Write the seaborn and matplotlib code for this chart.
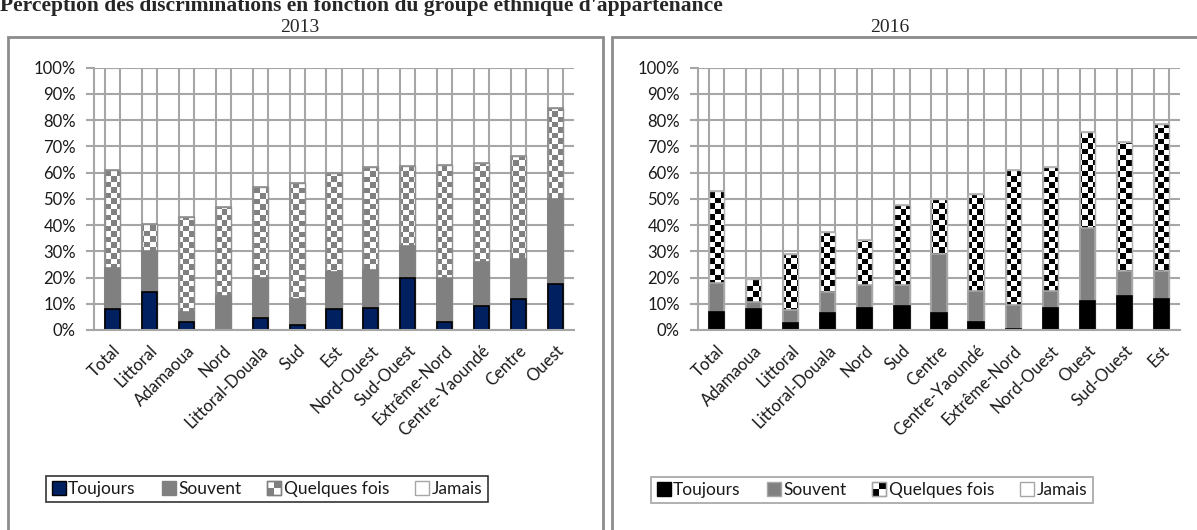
import numpy as np
import pandas as pd
import matplotlib
matplotlib.use("Agg")
import matplotlib.pyplot as plt
from matplotlib.patches import Rectangle, Patch
from matplotlib.legend_handler import HandlerBase
import seaborn as sns

# ---------------------------------------------------------------------
# Données (en %)
# ---------------------------------------------------------------------
regions_2013 = ["Total", "Littoral", "Adamaoua", "Nord", "Littoral-Douala", "Sud", "Est",
                "Nord-Ouest", "Sud-Ouest", "Extrême-Nord", "Centre-Yaoundé", "Centre", "Ouest"]
toujours_2013 = [8, 14.5, 3, 0, 4.5, 2, 8, 8.5, 20, 3, 9, 12, 17.5]
souvent_2013 = [15.5, 15.5, 4, 13, 15.5, 10, 14, 14.5, 12, 17, 17, 15, 32.5]
quelques_2013 = [37.5, 10.5, 36, 34, 34.5, 44, 38, 39, 30.5, 43, 37.5, 39.5, 34.5]

regions_2016 = ["Total", "Adamaoua", "Littoral", "Littoral-Douala", "Nord", "Sud", "Centre",
                "Centre-Yaoundé", "Extrême-Nord", "Nord-Ouest", "Ouest", "Sud-Ouest", "Est"]
toujours_2016 = [7, 8, 2.5, 6.5, 8.5, 9, 6.5, 3, 0.5, 8.5, 11, 13, 12]
souvent_2016 = [11, 2.5, 5, 8, 8.5, 8, 22.5, 12, 9, 6.5, 28, 9.5, 10.5]
quelques_2016 = [35, 9, 21.5, 23, 17.5, 30.5, 21, 37, 51.5, 47, 36.5, 49, 56]

categories = ["Toujours", "Souvent", "Quelques fois", "Jamais"]
yticks = np.arange(0, 101, 10)

GRID = "#a6a6a6"
TEXT = "#1a1a1a"
W, H = 1197, 530

sns.set_theme(style="white")
plt.rcParams["font.family"] = ["Lato", "DejaVu Sans"]


def checker(n_rows, n_cols):
    """Damier 0/1 pour les segments 'Quelques fois'."""
    return (np.add.outer(np.arange(n_rows), np.arange(n_cols)) % 2).astype(float)


class CheckerHandler(HandlerBase):
    """Petit carré à damier pour la légende."""
    def __init__(self, dark, edge):
        super().__init__()
        self.dark, self.edge = dark, edge

    def create_artists(self, legend, orig_handle, xdescent, ydescent, width, height, fontsize, trans):
        s = min(width, height)
        x0, y0 = -xdescent, -ydescent
        h = s / 2
        arts = [Rectangle((x0, y0), s, s, facecolor="white", edgecolor=self.edge, lw=1, transform=trans)]
        for (i, j) in [(0, 0), (1, 1)]:
            arts.append(Rectangle((x0 + i * h, y0 + j * h), h, h, facecolor=self.dark,
                                  edgecolor="none", transform=trans))
        arts.append(Rectangle((x0, y0), s, s, facecolor="none", edgecolor=self.edge, lw=1, transform=trans))
        return arts


def stacked_panel(ax, regions, toujours, souvent, quelques, c_tj, e_tj, c_sv, e_sv, c_chk, e_chk):
    df = pd.DataFrame({"region": regions, "t": toujours, "s": souvent, "q": quelques})
    df["c1"] = df["t"]
    df["c2"] = df["c1"] + df["s"]
    df["c3"] = df["c2"] + df["q"]
    df["c4"] = 100.0

    bw = 0.41
    # Jamais : contour gris sans remplissage (hauteur totale)
    sns.barplot(data=df, x="region", y="c4", color=GRID, fill=False, width=bw,
                linewidth=1.5, errorbar=None, ax=ax, zorder=2)
    n0 = len(ax.patches)
    sns.barplot(data=df, x="region", y="c3", color="white", width=bw, saturation=1,
                edgecolor=e_chk, linewidth=1.2, errorbar=None, ax=ax, zorder=3)
    chk_patches = ax.patches[n0:]
    sns.barplot(data=df, x="region", y="c2", color=c_sv, width=bw, saturation=1,
                edgecolor=e_sv, linewidth=1.2, errorbar=None, ax=ax, zorder=5)
    sns.barplot(data=df, x="region", y="c1", color=c_tj, width=bw, saturation=1,
                edgecolor=e_tj, linewidth=1.2, errorbar=None, ax=ax, zorder=6)

    # texture damier pour 'Quelques fois'
    pos = ax.get_position()
    ncols = int(round(pos.width * W / 5.5))
    nrows = int(round(pos.height * H / 5.5))
    cmap = matplotlib.colors.ListedColormap(["white", c_chk])
    img = checker(nrows, ncols)
    for p in chk_patches:
        if p.get_height() <= 0:
            continue
        im = ax.imshow(img, cmap=cmap, extent=(0, 1, 0, 1), transform=ax.transAxes,
                       interpolation="nearest", aspect="auto", zorder=4)
        im.set_clip_path(p)
        # contour du segment au-dessus de la texture
        ax.add_patch(Rectangle(p.get_xy(), p.get_width(), p.get_height(), facecolor="none",
                               edgecolor=e_chk, lw=1.0, zorder=4.5))

    n = len(regions)
    ax.set_xlim(-0.5, n - 0.5)
    ax.set_ylim(0, 100)
    ax.set_yticks(yticks)
    ax.set_yticklabels([f"{v}%" for v in yticks], fontsize=12, color=TEXT)
    ax.set_xticks(range(n))
    ax.set_xticklabels(regions, rotation=45, ha="right", rotation_mode="anchor",
                       fontsize=12, color=TEXT)
    ax.set_xticks(np.arange(-0.5, n, 1), minor=True)
    ax.tick_params(axis="x", which="major", length=0, pad=9)
    ax.tick_params(axis="x", which="minor", length=6, width=1.5, color=GRID, direction="out")
    ax.tick_params(axis="y", length=6, width=1.5, color=GRID, direction="out", pad=7, left=True)
    ax.yaxis.grid(True, color=GRID, linewidth=1.5)
    ax.set_axisbelow(True)
    for side in ["top", "right"]:
        ax.spines[side].set_visible(False)
    for side in ["left", "bottom"]:
        ax.spines[side].set_color(GRID)
        ax.spines[side].set_linewidth(1.5)
        ax.spines[side].set_zorder(7)
    ax.set_xlabel("")
    ax.set_ylabel("")


fig = plt.figure(figsize=(W / 100, H / 100), dpi=100)
ax1 = fig.add_axes([94 / W, 1 - 330 / H, 480 / W, 262.3 / H])
ax2 = fig.add_axes([698 / W, 1 - 330 / H, 482 / W, 262.3 / H])

stacked_panel(ax1, regions_2013, toujours_2013, souvent_2013, quelques_2013,
              "#002060", "black", "#808080", "#808080", "#808080", "#909090")
stacked_panel(ax2, regions_2016, toujours_2016, souvent_2016, quelques_2016,
              "black", "black", "#808080", "#a6a6a6", "black", "#b0b0b0")

# cadres des deux panneaux
for x0, x1 in [(8, 603), (612, 1205)]:
    fig.add_artist(Rectangle((x0 / W, -0.05), (x1 - x0) / W, (H - 37) / H + 0.05,
                             transform=fig.transFigure, fill=False, edgecolor="#8c8c8c", lw=2))

# titres
fig.text(0, 1 - 11 / H, "Perception des discriminations en fonction du groupe ethnique d'appartenance",
         family=["Liberation Serif"], fontweight="bold", fontsize=15.5, va="baseline", ha="left")
fig.text(300 / W, 1 - 32 / H, "2013", family=["Liberation Serif"], fontsize=14, va="baseline", ha="center")
fig.text(890 / W, 1 - 32 / H, "2016", family=["Liberation Serif"], fontsize=14, va="baseline", ha="center")

# légendes
def make_legend(c_tj, e_tj, c_sv, e_sv, c_chk, e_chk, frame_col, cx, cy):
    handles = [Patch(facecolor=c_tj, edgecolor=e_tj, lw=1),
               Patch(facecolor=c_sv, edgecolor=e_sv, lw=1),
               Patch(facecolor="white", edgecolor=e_chk),
               Patch(facecolor="white", edgecolor=GRID, lw=1)]
    leg = fig.legend(handles, categories, loc="center", bbox_to_anchor=(cx, cy), ncol=4,
                     frameon=True, fancybox=False, edgecolor=frame_col, fontsize=12.5,
                     handlelength=0.8, handleheight=0.8, handletextpad=0.15,
                     columnspacing=1.5, borderpad=0.3,
                     handler_map={handles[2]: CheckerHandler(c_chk, e_chk)})
    leg.get_frame().set_linewidth(1.2)
    for t in leg.get_texts():
        t.set_color(TEXT)
    return leg

make_legend("#002060", "black", "#808080", "#808080", "#808080", "#808080", "black",
            267 / W, 1 - 489 / H)
make_legend("black", "black", "#808080", "#a6a6a6", "black", "#a6a6a6", "#8c8c8c",
            872 / W, 1 - 490 / H)

fig.savefig("out.png", dpi=100, facecolor="white")
